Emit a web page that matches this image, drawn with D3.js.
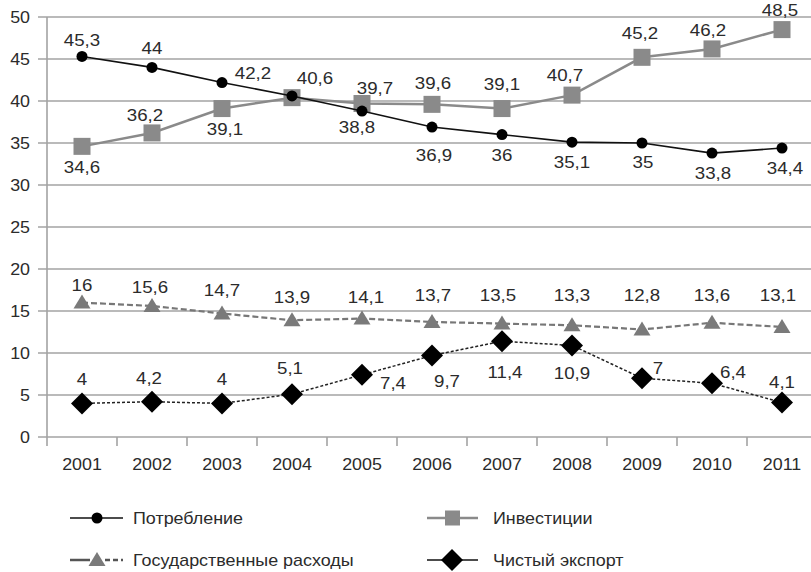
<!DOCTYPE html>
<html>
<head>
<meta charset="utf-8">
<script src="https://cdn.jsdelivr.net/npm/d3@7"></script>
<style>
  body { margin: 0; background: #fff; }
  svg { display: block; font-family: "Liberation Sans", Arial, sans-serif; }
</style>
</head>
<body>
<svg id="canvas" width="811" height="572"></svg>
<script>
// data
var years = ["2001","2002","2003","2004","2005","2006","2007","2008","2009","2010","2011"];
var consumption = [45.3, 44, 42.2, 40.6, 38.8, 36.9, 36, 35.1, 35, 33.8, 34.4];
var investment  = [34.6, 36.2, 39.1, 40.4, 39.7, 39.6, 39.1, 40.7, 45.2, 46.2, 48.5];
var government  = [16, 15.6, 14.7, 13.9, 14.1, 13.7, 13.5, 13.3, 12.8, 13.6, 13.1];
var netExport   = [4, 4.2, 4, 5.1, 7.4, 9.7, 11.4, 10.9, 7, 6.4, 4.1];
var yTicks = [0, 5, 10, 15, 20, 25, 30, 35, 40, 45, 50];
var seriesNames = ["Потребление", "Инвестиции", "Государственные расходы", "Чистый экспорт"];

// label placement (dx, dy of label centre from point); null = no label
var consLab = [[0,-17],[0,-20],[31,-10],[23,-18],[-5,16],[2,28],[0,20],[0,20],[1,19],[1,20],[3,20]];
var invLab  = [[0,21],[-7,-18],[3,20],null,[13,-16],[1,-21],[0,-25],[-7,-20],[-2,-24],[-4,-19],[-2,-20]];
var govLab  = [[0,-18],[-2,-19],[0,-24],[0,-23],[4,-22],[1,-27],[-4,-29],[0,-30],[0,-35],[0,-28],[-4,-32]];
var expLab  = [[0,-25],[-3,-24],[0,-25],[-2,-26],[31,8],[15,25],[3,31],[0,27],[16,-10],[21,-11],[0,-21]];

var svg = d3.select("#canvas");
var textCol = "#2b2b2b", gridCol = "#a3a3a3";

var x = d3.scaleBand().domain(years).range([47, 817]);
var y = d3.scaleLinear().domain([0, 50]).range([437, 17]);
var cx = function(d, i) { return x(years[i]) + x.bandwidth() / 2; };
var fmt = function(v) { return String(v).replace(".", ","); };

// text with slight horizontal stretch like the original
function stretchText(g, tx, ty, s, size, anchor, sx) {
  g.append("text")
    .attr("transform", "translate(" + tx + "," + ty + ") scale(" + (sx || 1.08) + ",1)")
    .attr("text-anchor", anchor || "middle")
    .attr("dy", "0.36em")
    .attr("font-size", size)
    .attr("fill", textCol)
    .text(s);
}

// grid
var grid = svg.append("g");
grid.selectAll("line").data(yTicks).join("line")
  .attr("x1", 38).attr("x2", 811)
  .attr("y1", d => y(d)).attr("y2", d => y(d))
  .attr("stroke", gridCol).attr("stroke-width", 1.6);
grid.append("line").attr("x1", 47).attr("x2", 47).attr("y1", y(50)).attr("y2", 446)
  .attr("stroke", gridCol).attr("stroke-width", 1.6);
grid.selectAll(".tk").data(years.slice(1).concat(["end"])).join("line")
  .attr("x1", (d, i) => 47 + (i + 1) * x.bandwidth()).attr("x2", (d, i) => 47 + (i + 1) * x.bandwidth())
  .attr("y1", y(0)).attr("y2", 446)
  .attr("stroke", gridCol).attr("stroke-width", 1.6);

var axisG = svg.append("g");
yTicks.forEach(function(t) { stretchText(axisG, 30, y(t), String(t), 17, "end", 1.05); });
years.forEach(function(yr, i) { stretchText(axisG, cx(null, i), 464, yr, 17, "middle", 1.05); });

var line = d3.line().x(cx).y(d => y(d));

// marker shapes
function dot(g, px, py) { g.append("circle").attr("cx", px).attr("cy", py).attr("r", 5.5).attr("fill", "#000"); }
function square(g, px, py) { g.append("rect").attr("x", px - 8.5).attr("y", py - 8.5).attr("width", 17).attr("height", 17).attr("fill", "#8a8a8a"); }
function tri(g, px, py) { g.append("path").attr("d", "M" + px + "," + (py - 8) + "L" + (px + 8.5) + "," + (py + 6) + "L" + (px - 8.5) + "," + (py + 6) + "Z").attr("fill", "#7a7a7a"); }
function diamond(g, px, py) { g.append("path").attr("d", "M" + px + "," + (py - 11) + "L" + (px + 11) + "," + py + "L" + px + "," + (py + 11) + "L" + (px - 11) + "," + py + "Z").attr("fill", "#000"); }

var series = [
  { vals: government,  col: "#777",    w: 2.2, dash: "6,3", mark: tri,     lab: govLab },
  { vals: netExport,   col: "#222",    w: 1.5, dash: "3,2", mark: diamond, lab: expLab },
  { vals: investment,  col: "#8a8a8a", w: 2.5, dash: null,  mark: square,  lab: invLab },
  { vals: consumption, col: "#111",    w: 1.6, dash: null,  mark: dot,     lab: consLab }
];

series.forEach(function(s) {
  var g = svg.append("g");
  g.append("path").datum(s.vals).attr("d", line)
    .attr("fill", "none").attr("stroke", s.col).attr("stroke-width", s.w)
    .attr("stroke-dasharray", s.dash);
  s.vals.forEach(function(v, i) { s.mark(g, cx(null, i), y(v)); });
});
series.forEach(function(s) {
  var g = svg.append("g");
  s.vals.forEach(function(v, i) {
    var o = s.lab[i];
    if (!o) return;
    stretchText(g, cx(null, i) + o[0], y(v) + o[1], fmt(v), 17, "middle", 1.1);
  });
});

// legend
var lg = svg.append("g");
var r1 = 518, r2 = 560;
lg.append("line").attr("x1", 70).attr("x2", 123).attr("y1", r1).attr("y2", r1).attr("stroke", "#111").attr("stroke-width", 1.6);
dot(lg, 97, r1);
stretchText(lg, 133, r1, seriesNames[0], 16, "start", 1.12);

lg.append("line").attr("x1", 427).attr("x2", 478).attr("y1", r1).attr("y2", r1).attr("stroke", "#8a8a8a").attr("stroke-width", 2.5);
lg.append("rect").attr("x", 445).attr("y", r1 - 7.5).attr("width", 15).attr("height", 15).attr("fill", "#8a8a8a");
stretchText(lg, 493, r1, seriesNames[1], 16, "start", 1.12);

lg.append("line").attr("x1", 70).attr("x2", 90).attr("y1", r2).attr("y2", r2).attr("stroke", "#555").attr("stroke-width", 2.5);
lg.append("line").attr("x1", 105).attr("x2", 123).attr("y1", r2).attr("y2", r2).attr("stroke", "#555").attr("stroke-width", 2.5).attr("stroke-dasharray", "5,3");
tri(lg, 97, r2);
stretchText(lg, 133, r2, seriesNames[2], 16, "start", 1.12);

lg.append("line").attr("x1", 427).attr("x2", 478).attr("y1", r2).attr("y2", r2).attr("stroke", "#111").attr("stroke-width", 1.6);
diamond(lg, 452, r2);
stretchText(lg, 493, r2, seriesNames[3], 16, "start", 1.12);
</script>
</body>
</html>
